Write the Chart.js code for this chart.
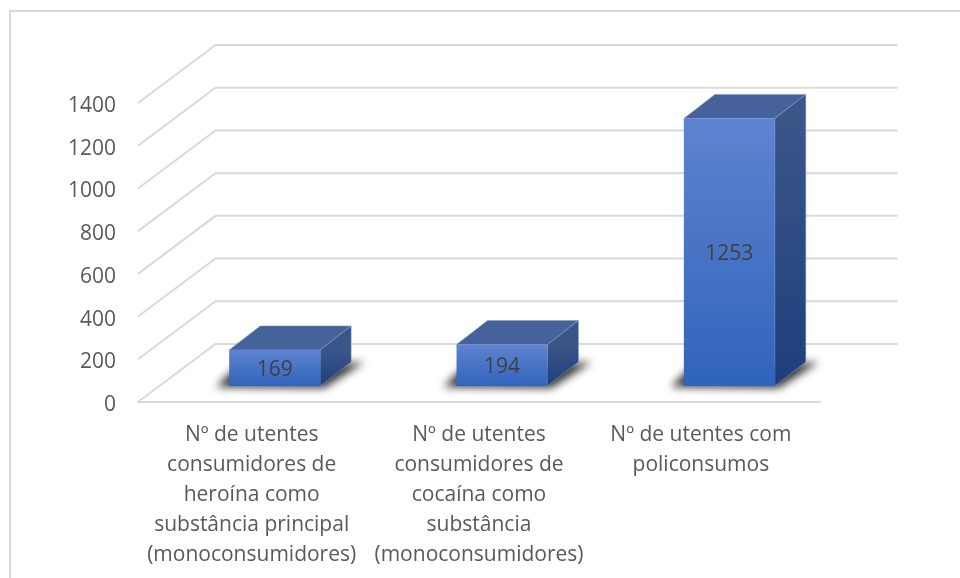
<!DOCTYPE html>
<html>
<head>
<meta charset="utf-8">
<style>
  html, body { margin: 0; padding: 0; background: #fff; overflow: hidden; }
  #box { position: absolute; left: 0; top: 0; width: 960px; height: 578px; }
</style>
<script src="https://cdn.jsdelivr.net/npm/chart.js@4/dist/chart.umd.min.js"></script>
</head>
<body>
<div id="box"><canvas id="chart"></canvas></div>
<script>
const categories = [
    ['Nº de utentes', 'consumidores de', 'heroína como', 'substância principal', '(monoconsumidores)'],
    ['Nº de utentes', 'consumidores de', 'cocaína como', 'substância', '(monoconsumidores)'],
    ['Nº de utentes com  ', 'policonsumos  ']
];
const values = [169, 194, 1253];
const yMax = 1400;
const yStep = 200;

// fake 3D: how far the back wall and the bars sit behind the front plane
const wallDepth = { x: 77.5, y: -58 };
const barShift = { x: 23, y: -16 };
const barDepth = { x: 31, y: -24 };
const fontName = '"Open Sans", sans-serif';

function poly(ctx, pts) {
    ctx.beginPath();
    ctx.moveTo(pts[0][0], pts[0][1]);
    for (let i = 1; i < pts.length; i++) ctx.lineTo(pts[i][0], pts[i][1]);
    ctx.closePath();
}

function vGrad(ctx, top, bottom, c1, c2) {
    const g = ctx.createLinearGradient(0, top, 0, bottom);
    g.addColorStop(0, c1);
    g.addColorStop(1, c2);
    return g;
}

const scene3d = {
    id: 'scene3d',
    beforeDraw(chart) {
        // frame of the picture: only the top and left edges show
        const ctx = chart.ctx;
        ctx.save();
        ctx.strokeStyle = '#d9d9d9';
        ctx.lineWidth = 2;
        ctx.beginPath();
        ctx.moveTo(10, 578);
        ctx.lineTo(10, 11);
        ctx.lineTo(960, 11);
        ctx.stroke();
        ctx.restore();
    },
    beforeDatasetsDraw(chart) {
        const ctx = chart.ctx;
        const area = chart.chartArea;
        const y = chart.scales.y;
        // wall lines, one per tick
        ctx.save();
        ctx.strokeStyle = '#d9d9d9';
        ctx.lineWidth = 2;
        y.ticks.forEach(t => {
            const py = y.getPixelForValue(t.value);
            ctx.beginPath();
            ctx.moveTo(area.left, py);
            ctx.lineTo(area.left + wallDepth.x, py + wallDepth.y);
            ctx.lineTo(area.right + wallDepth.x, py + wallDepth.y);
            ctx.stroke();
        });
        ctx.restore();

        // shadows and the top / side faces of the bars
        const meta = chart.getDatasetMeta(0);
        meta.data.forEach(el => {
            const l = el.x - el.width / 2 + barShift.x;
            const r = el.x + el.width / 2 + barShift.x;
            const top = el.y + barShift.y;
            const bot = el.base + barShift.y;
            const dx = barDepth.x, dy = barDepth.y;

            ctx.save();
            ctx.filter = 'blur(4px)';
            ctx.fillStyle = 'rgba(0,0,0,0.8)';
            poly(ctx, [[l - 13, bot + 1], [r + 4, bot + 2], [r + dx + 13, bot + dy], [l + 4, bot + dy + 8]]);
            ctx.fill();
            ctx.restore();

            ctx.save();
            ctx.strokeStyle = 'rgba(130,155,210,0.55)';
            ctx.lineWidth = 1;
            ctx.fillStyle = '#46629a';
            poly(ctx, [[l, top], [r, top], [r + dx, top + dy], [l + dx, top + dy]]);
            ctx.fill();
            ctx.stroke();
            ctx.fillStyle = vGrad(ctx, top, bot, '#3a5689', '#1e3f7c');
            poly(ctx, [[r, top], [r + dx, top + dy], [r + dx, bot + dy], [r, bot]]);
            ctx.fill();
            ctx.stroke();
            ctx.restore();
        });

        // bars themselves are drawn by Chart.js, moved back from the front plane
        ctx.save();
        ctx.translate(barShift.x, barShift.y);
    },
    afterDatasetsDraw(chart) {
        const ctx = chart.ctx;
        ctx.restore();
        const meta = chart.getDatasetMeta(0);
        ctx.save();
        ctx.font = '21px ' + fontName;
        ctx.fillStyle = '#404040';
        ctx.textAlign = 'center';
        ctx.textBaseline = 'middle';
        meta.data.forEach((el, i) => {
            ctx.fillText(String(values[i]), el.x + barShift.x, (el.y + el.base) / 2 + barShift.y + 2);
        });
        ctx.restore();
    }
};

new Chart(document.getElementById('chart').getContext('2d'), {
    type: 'bar',
    plugins: [scene3d],
    data: {
        labels: categories,
        datasets: [{
            data: values,
            backgroundColor(c) {
                const y = c.chart.scales.y;
                if (!y || c.raw === undefined) return '#4673c9';
                const top = y.getPixelForValue(c.raw);
                const bottom = y.getPixelForValue(0);
                if (!Number.isFinite(top) || !Number.isFinite(bottom)) return '#4673c9';
                return vGrad(c.chart.ctx, top, bottom, '#5f83d0', '#3064bb');
            },
            barPercentage: 0.4,
            categoryPercentage: 1
        }]
    },
    options: {
        responsive: true,
        maintainAspectRatio: false,
        animation: false,
        layout: { padding: { top: 103, right: 140, left: 0, bottom: 0 } },
        plugins: { legend: { display: false }, tooltip: { enabled: false } },
        scales: {
            x: {
                grid: { display: false, drawTicks: false },
                border: { display: true, color: '#d9d9d9', width: 2 },
                afterFit(s) { s.height = 176; },
                ticks: {
                    maxRotation: 0,
                    autoSkip: false,
                    padding: 18,
                    color: '#595959',
                    font: { family: fontName, size: 21, lineHeight: 1.43 }
                }
            },
            y: {
                min: 0,
                max: yMax,
                afterFit(s) { s.width = 138; },
                grid: { display: false, drawTicks: false },
                border: { display: false },
                ticks: {
                    stepSize: yStep,
                    padding: 22,
                    labelOffset: 3,
                    color: '#595959',
                    font: { family: fontName, size: 21 },
                    callback(v) { return String(v); }
                }
            }
        }
    }
});
</script>
</body>
</html>
